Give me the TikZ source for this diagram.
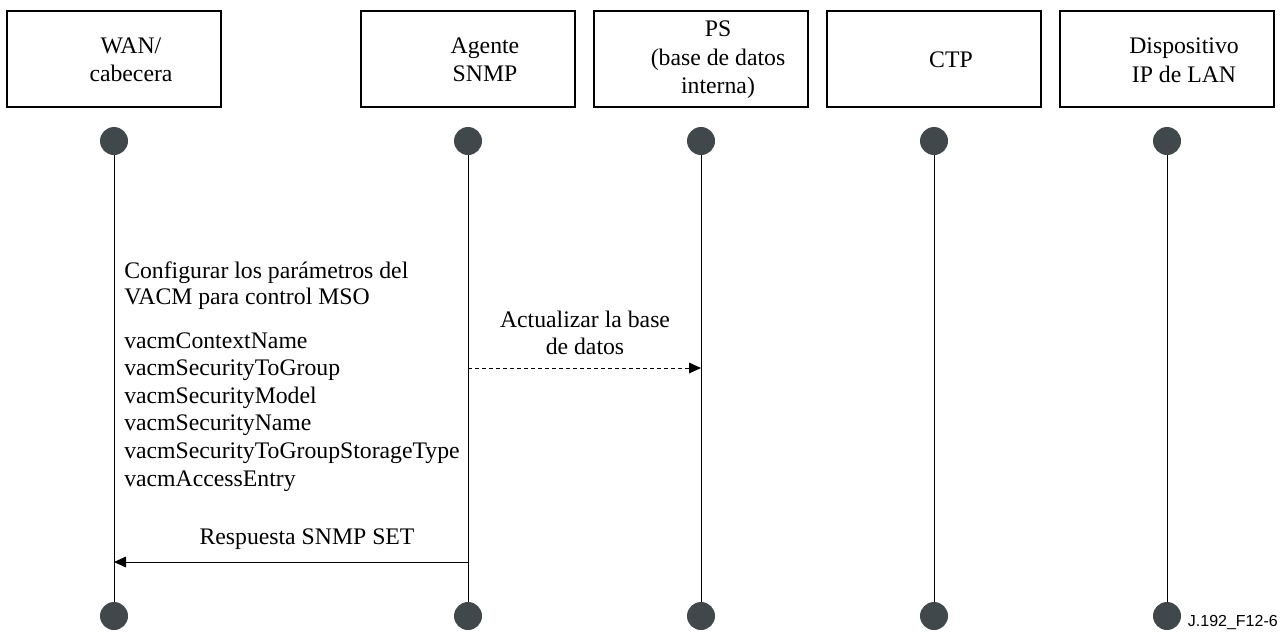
\documentclass[tikz,border=0pt]{standalone}
\usepackage{fontspec}
\setmainfont{Liberation Serif}
\newfontfamily\notefont{Liberation Sans}
\usetikzlibrary{arrows.meta}
\definecolor{dotgray}{HTML}{41484B}
\begin{document}
\begin{tikzpicture}[x=0.75pt,y=-0.75pt,
  actor/.style={draw, line width=1.5pt, minimum width=160.5pt, minimum height=72pt, inner sep=0pt},
  actortext/.style={align=center, inner sep=0pt, font=\fontsize{17.8}{21.4}\selectfont},
  dot/.style={circle, fill=dotgray, minimum size=21pt, inner sep=0pt},
  life/.style={line width=0.75pt},
  msg/.style={line width=0.75pt, -{Triangle[length=9pt,width=8pt]}},
  txt/.style={font=\fontsize{17.8}{20.6}\selectfont, inner sep=0pt},
  note/.style={font=\notefont\fontsize{12}{14}\selectfont, inner sep=0pt},
]
\useasboundingbox (0,0) rectangle (1285,633);

% participants
\foreach \n/\x in {A/114, B/468, C/701, D/934, E/1167}{
  \node[actor] (box\n) at (\x,59) {};
  \node[dot] (top\n) at (\x,141) {};
  \node[dot] (bot\n) at (\x,616) {};
  \draw[life] (top\n) -- (bot\n);
}
\node[actortext] (nameA) at (131,60) {WAN/\\cabecera};
\node[actortext] (nameB) at (485,60) {Agente\\SNMP};
\node[actortext] (nameC) at (718,60) {PS\\(base de datos\\interna)};
\node[actortext] (nameD) at (951,60) {CTP};
\node[actortext] (nameE) at (1184,60) {Dispositivo\\IP de LAN};

% configuration notes on the head-end lifeline
\node[txt, anchor=base west] (cfg1) at (124,278) {Configurar los parámetros del};
\node[txt, anchor=base west] (cfg2) at (124,304) {VACM para control MSO};
\foreach \t [count=\i] in {vacmContextName, vacmSecurityToGroup, vacmSecurityModel,
    vacmSecurityName, vacmSecurityToGroupStorageType, vacmAccessEntry}{
  \node[txt, anchor=base west] (obj\i) at (124,{348+27.6*(\i-1)}) {\t};
}

% database update
\coordinate (updFrom) at (468,368);
\coordinate (updTo) at (701,368);
\draw[msg, dash pattern=on 3pt off 2.25pt] (updFrom) -- (updTo);
\node[txt, align=center] (updLabel) at (585,333) {Actualizar la base\\de datos};

% SNMP SET response
\coordinate (rspFrom) at (468,562);
\coordinate (rspTo) at (114,562);
\draw[msg] (rspFrom) -- (rspTo);
\node[txt, anchor=base] (rspLabel) at (307,544) {Respuesta SNMP SET};

% figure reference
\node[note, anchor=base east] (figref) at (1278,626) {J.192\_F12-6};
\end{tikzpicture}
\end{document}
